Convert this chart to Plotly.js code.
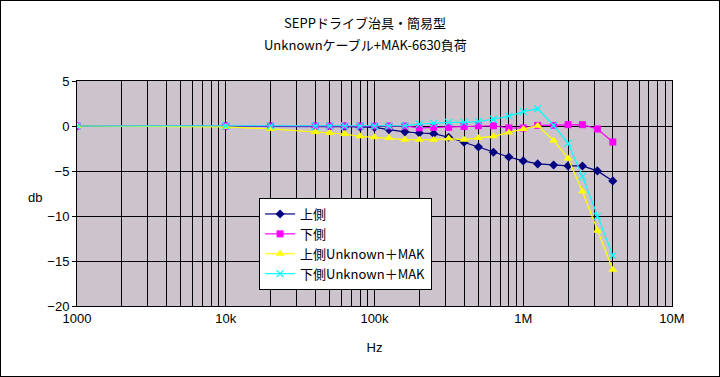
<!DOCTYPE html>
<html>
<head>
<meta charset="utf-8">
<script src="https://cdn.plot.ly/plotly-3.0.1.min.js"></script>
<style>
html,body{margin:0;padding:0;background:#fff;}
#wrap{position:relative;width:720px;height:377px;}
#chart{width:720px;height:377px;}
#frame{position:absolute;left:0;top:0;width:720px;height:377px;box-sizing:border-box;border:1px solid #000;pointer-events:none;}
</style>
</head>
<body>
<div id="wrap"><div id="chart"></div><div id="frame"></div></div>
<script>
// Frequencies (Hz)
const freq = [1000, 10000, 20000, 40000, 50000, 63000, 80000, 100000, 125000, 160000, 200000, 250000, 315000, 400000, 500000, 630000, 800000, 1000000, 1250000, 1600000, 2000000, 2500000, 3150000, 4000000];
// Series (dB)
const upper      = [0, 0, 0, -0.05, -0.05, -0.08, -0.1, -0.15, -0.4, -0.65, -0.78, -0.85, -1.25, -1.8, -2.33, -2.91, -3.44, -3.88, -4.21, -4.33, -4.43, -4.44, -4.99, -6.1];
const lower      = [0, 0, 0, 0, 0, 0, 0, 0, 0, 0, -0.2, -0.15, -0.15, -0.05, 0.03, 0.03, -0.22, -0.22, 0.07, 0.07, 0.15, 0.15, -0.33, -1.78];
const upperMAK   = [0, -0.1, -0.33, -0.67, -0.78, -0.89, -1.15, -1.26, -1.33, -1.52, -1.52, -1.52, -1.4, -1.52, -1.33, -1.15, -0.71, -0.33, 0.03, -1.6, -3.6, -7.27, -11.63, -15.97];
const lowerMAK   = [0, 0, 0, 0, 0, 0, 0, 0, 0, 0.05, 0.2, 0.3, 0.4, 0.4, 0.51, 0.75, 1.1, 1.6, 1.92, 0.07, -1.9, -5.6, -10.04, -14.4];

const seriesNames = ['上側', '下側', '上側Unknown＋MAK', '下側Unknown＋MAK'];
const titleLines = ['SEPPドライブ治具・簡易型', 'Unknownケーブル+MAK-6630負荷'];
const majorTickVals = [1000, 10000, 100000, 1000000, 10000000];
const majorTickText = ['1000', '10k', '100k', '1M', '10M'];
const yTickVals = [-20, -15, -10, -5, 0, 5];
const yTickText = ['−20', '−15', '−10', '−5', '0', '5'];

// grid positions at every log minor step
const gridVals = [], gridText = [];
for (let d = 0; d < majorTickVals.length; d++) {
  const base = majorTickVals[d];
  const maxK = (d === majorTickVals.length - 1) ? 1 : 9;
  for (let k = 1; k <= maxK; k++) {
    gridVals.push(base * k);
    gridText.push(k === 1 ? majorTickText[d] : '');
  }
}

const fontFam = 'Liberation Sans, Noto Sans CJK JP, sans-serif';
const jpFont = 'Noto Sans CJK JP, Liberation Sans, sans-serif';

const traces = [
  {x: freq, y: upper, name: seriesNames[0], mode: 'lines+markers',
   line: {color: '#000080', width: 1.2}, marker: {symbol: 'diamond', size: 7, color: '#000080'}},
  {x: freq, y: lower, name: seriesNames[1], mode: 'lines+markers',
   line: {color: '#FF00FF', width: 1.2}, marker: {symbol: 'square', size: 7, color: '#FF00FF'}},
  {x: freq, y: upperMAK, name: seriesNames[2], mode: 'lines+markers',
   line: {color: '#FFFF00', width: 1.2}, marker: {symbol: 'triangle-up', size: 8, color: '#FFFF00'}},
  {x: freq, y: lowerMAK, name: seriesNames[3], mode: 'lines+markers',
   line: {color: '#00FFFF', width: 1.2}, marker: {symbol: 'x-thin-open', size: 7, color: '#00FFFF', line: {color: '#00FFFF', width: 1.2}}}
];

const layout = {
  width: 720, height: 377,
  margin: {l: 77, r: 48, t: 81, b: 71},
  paper_bgcolor: '#ffffff',
  plot_bgcolor: '#ccc3cc',
  font: {family: fontFam, size: 13, color: '#000'},
  title: {text: titleLines[0],
          font: {family: jpFont, size: 13, color: '#000'},
          x: 365/720, xref: 'container', xanchor: 'center',
          y: 1 - 23/377, yref: 'container', yanchor: 'middle'},
  xaxis: {type: 'log', range: [3, 7], tickmode: 'array', tickvals: gridVals, ticktext: gridText,
          showgrid: true, gridcolor: '#000', gridwidth: 1,
          showline: true, linecolor: '#000', linewidth: 1, mirror: true,
          ticks: '', zeroline: false,
          tickfont: {family: fontFam, size: 13},
          title: {text: 'Hz', font: {family: fontFam, size: 13}, standoff: 18}},
  yaxis: {range: [-20, 5], tickmode: 'array', tickvals: yTickVals, ticktext: yTickText,
          showgrid: true, gridcolor: '#000', gridwidth: 1,
          showline: true, linecolor: '#000', linewidth: 1, mirror: true,
          ticks: 'outside', ticklen: 4, tickcolor: '#000', zeroline: false,
          tickfont: {family: fontFam, size: 13}},
  legend: {x: 0.306, y: 0.48, xanchor: 'left', yanchor: 'top',
           bgcolor: '#ffffff', bordercolor: '#000', borderwidth: 1,
           font: {family: jpFont, size: 13}, tracegroupgap: 0},
  annotations: [
    {text: 'db', xref: 'paper', yref: 'paper', x: (35-77)/595, y: (306-197)/225,
     showarrow: false, xanchor: 'center', yanchor: 'middle',
     font: {family: fontFam, size: 13}},
    {text: titleLines[1], xref: 'paper', yref: 'paper', x: (365-77)/595, y: (306-44)/225,
     showarrow: false, xanchor: 'center', yanchor: 'middle',
     font: {family: jpFont, size: 13, color: '#000'}}
  ],
  showlegend: true
};

Plotly.newPlot('chart', traces, layout, {displayModeBar: false, staticPlot: true});
</script>
</body>
</html>
